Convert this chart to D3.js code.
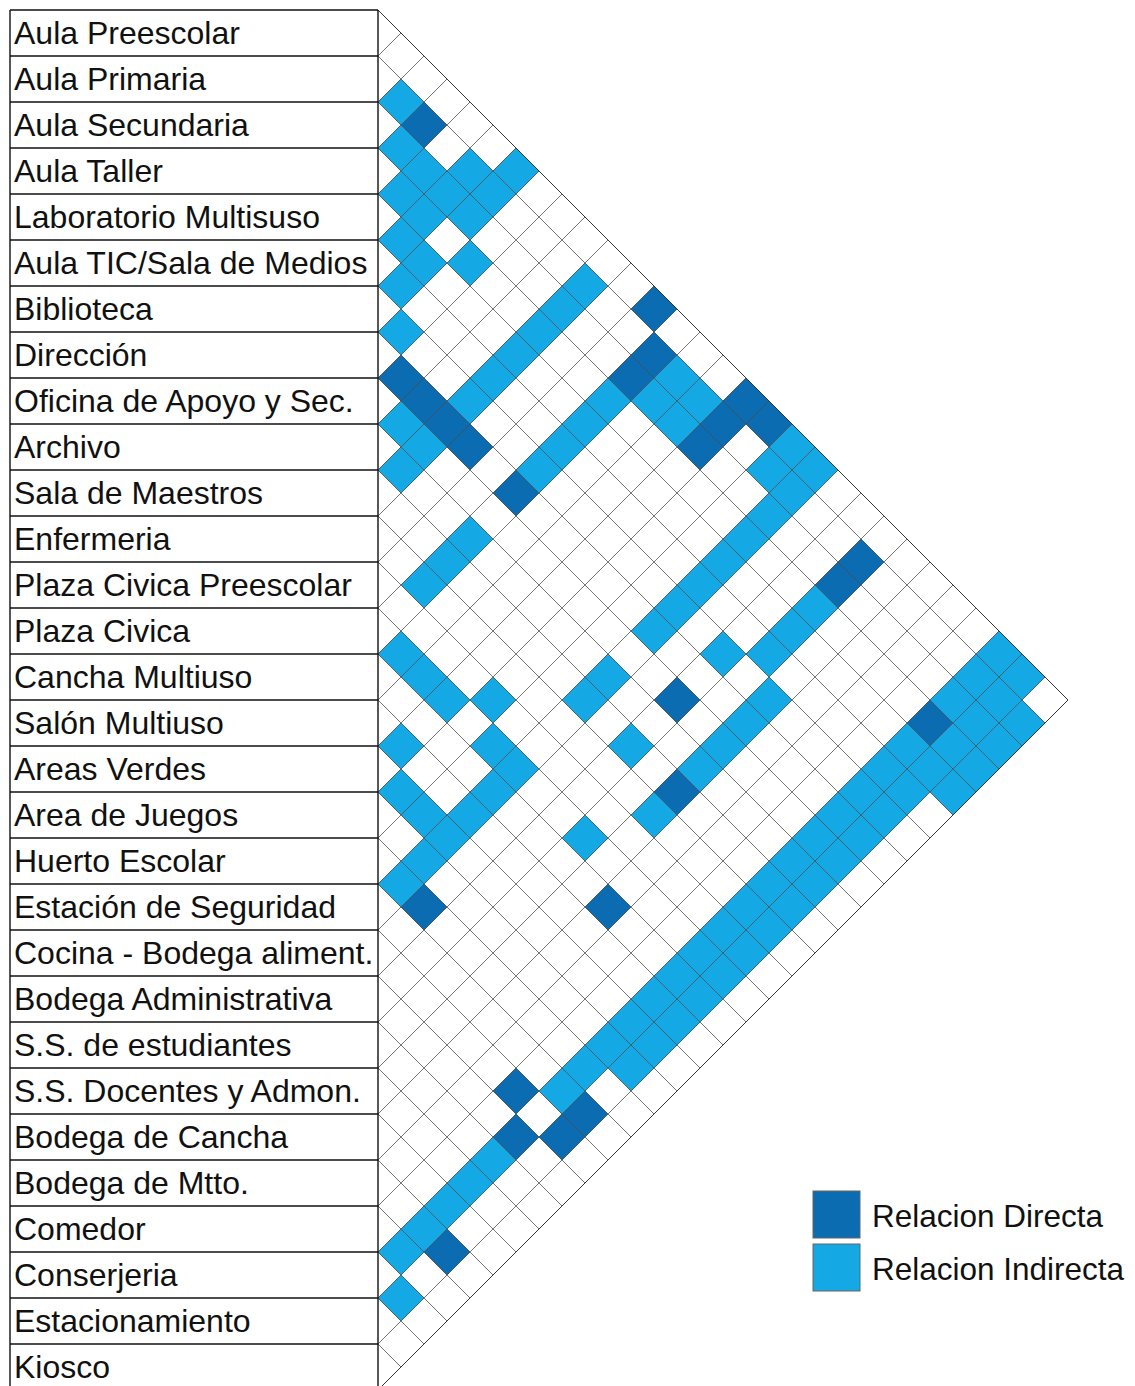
<!DOCTYPE html>
<html>
<head>
<meta charset="utf-8">
<script src="https://cdn.jsdelivr.net/npm/d3@7"></script>
<style>
  html, body { margin: 0; padding: 0; background: #fff; }
  svg { display: block; }
  text { font-family: "Liberation Sans", Arial, sans-serif; }
</style>
</head>
<body>
<div id="chart"></div>
<script>
// ---------------- data ----------------
const rooms = [
  "Aula Preescolar", "Aula Primaria", "Aula Secundaria", "Aula Taller",
  "Laboratorio Multisuso", "Aula TIC/Sala de Medios", "Biblioteca", "Dirección",
  "Oficina de Apoyo y Sec.", "Archivo", "Sala de Maestros", "Enfermeria",
  "Plaza Civica Preescolar", "Plaza Civica", "Cancha Multiuso", "Salón Multiuso",
  "Areas Verdes", "Area de Juegos", "Huerto Escolar", "Estación de Seguridad",
  "Cocina - Bodega aliment.", "Bodega Administrativa", "S.S. de estudiantes",
  "S.S. Docentes y Admon.", "Bodega de Cancha", "Bodega de Mtto.", "Comedor",
  "Conserjeria", "Estacionamiento", "Kiosco"
];

// pairs [row a, row b] (indices into rooms)
const directPairs = [
  [1,3],[0,12],[1,13],[2,13],[7,8],[7,9],[7,10],[7,11],[7,13],
  [0,16],[1,16],[2,16],[0,17],[1,22],[2,22],[8,21],[10,23],[18,20],
  [14,24],[3,27],[20,26],[21,27],[19,28],[20,28],[25,28]
];

const indirectPairs = [
  [1,2],[2,3],[2,4],[3,4],[1,5],[2,5],[3,5],[4,5],[0,6],[1,6],[2,6],[4,6],[5,6],
  [3,7],[6,7],[8,9],
  [1,10],[2,10],[3,10],[4,10],[5,10],[6,10],[8,10],[9,10],
  [3,13],[4,13],[5,13],[6,13],[9,13],[10,13],[11,13],
  [1,14],[2,14],[13,14],[1,15],[2,15],[13,15],[13,16],[15,16],[12,17],[16,17],
  [0,18],[1,18],[13,18],[16,18],
  [0,19],[1,19],[2,19],[3,19],[4,19],[5,19],[6,19],[7,19],[9,19],[10,19],
  [13,19],[14,19],[15,19],[16,19],[17,19],[18,19],
  [6,21],[10,21],
  [3,22],[4,22],[5,22],[13,22],
  [6,23],[7,23],[8,23],[9,23],[11,23],
  [0,27],[1,27],[2,27],[4,27],[5,27],[6,27],[7,27],[8,27],[9,27],[10,27],[11,27],
  [12,27],[13,27],[14,27],[15,27],[16,27],[17,27],[18,27],[19,27],
  [22,27],[23,27],[24,27],[25,27],[26,27],
  [0,28],[1,28],[2,28],[3,28],[4,28],[5,28],[6,28],[7,28],[8,28],[9,28],[10,28],
  [11,28],[12,28],[13,28],[14,28],[15,28],[16,28],[17,28],[27,28],
  [1,29],[2,29],[3,29],[4,29]
];

const legendLabels = ["Relacion Directa", "Relacion Indirecta"];
const legendKeys = ["direct", "indirect"];

// ---------------- layout ----------------
const W = 1135, H = 1386;
const N = rooms.length;
const tableLeft = 10, tableRight = 378, topY = 10, rowH = 46;
const colors = { direct: "#0b6cb1", indirect: "#14a8e4" };

const svg = d3.select("#chart").append("svg")
  .attr("width", W).attr("height", H)
  .attr("viewBox", `0 0 ${W} ${H}`);

svg.append("rect").attr("width", W).attr("height", H).attr("fill", "#fff");

// y: boundary index -> pixel; x: offset (in half rows) -> pixel
const y = d3.scaleLinear().domain([0, N]).range([topY, topY + rowH * N]);
const x = d3.scaleLinear().domain([0, N]).range([tableRight, tableRight + (rowH / 2) * N]);
const hx = x(1) - x(0);
const hy = y(0.5) - y(0);

function diamond(p) {
  const [a, b] = p;
  const cx = x(b - a), cy = y((a + b + 1) / 2);
  return [[cx - hx, cy], [cx, cy - hy], [cx + hx, cy], [cx, cy + hy]];
}

const cells = directPairs.map(p => ({ p, k: "direct" }))
  .concat(indirectPairs.map(p => ({ p, k: "indirect" })));

svg.append("g").selectAll("polygon").data(cells).join("polygon")
  .attr("points", d => diamond(d.p).map(q => q.join(",")).join(" "))
  .attr("fill", d => colors[d.k])
  .attr("stroke", d => colors[d.k])
  .attr("stroke-width", 0.6);

// grid lines of the matrix
const bounds = d3.range(0, N + 1);
const grid = svg.append("g").attr("stroke", "#4a4a4a").attr("stroke-width", 1).attr("fill", "none");
const yBottom = y(N);
bounds.forEach(k => {
  const yk = y(k);
  const tu = (yk - topY) / 2;
  if (tu > 0) grid.append("line").attr("x1", tableRight).attr("y1", yk)
    .attr("x2", tableRight + tu).attr("y2", yk - tu)
    .attr("stroke-opacity", 0.75);
  const td = (yBottom - yk) / 2;
  if (td > 0) grid.append("line").attr("x1", tableRight).attr("y1", yk)
    .attr("x2", tableRight + td).attr("y2", yk + td)
    .attr("stroke-opacity", 0.75);
});
grid.append("line").attr("x1", tableRight).attr("y1", topY)
  .attr("x2", x(N)).attr("y2", y(N / 2)).attr("stroke", "#333");
grid.append("line").attr("x1", tableRight).attr("y1", yBottom)
  .attr("x2", x(N)).attr("y2", y(N / 2)).attr("stroke", "#333");

// table of labels
const table = svg.append("g");
table.selectAll("line.sep").data(bounds).join("line")
  .attr("class", "sep")
  .attr("x1", tableLeft).attr("x2", tableRight)
  .attr("y1", d => y(d)).attr("y2", d => y(d))
  .attr("stroke", "#111").attr("stroke-width", 1.4);
table.append("line").attr("x1", tableLeft).attr("x2", tableLeft)
  .attr("y1", topY).attr("y2", yBottom).attr("stroke", "#111").attr("stroke-width", 1.4);
table.append("line").attr("x1", tableRight).attr("x2", tableRight)
  .attr("y1", topY).attr("y2", yBottom).attr("stroke", "#111").attr("stroke-width", 1.4);

table.selectAll("text").data(rooms).join("text")
  .attr("x", tableLeft + 4)
  .attr("y", (d, i) => y(i + 0.5) + 11)
  .attr("font-size", 32)
  .attr("fill", "#111")
  .text(d => d);

// legend
const lg = svg.append("g").attr("transform", "translate(813,1191)");
const item = lg.selectAll("g").data(legendLabels).join("g")
  .attr("transform", (d, i) => `translate(0, ${i * 53})`);
item.append("rect").attr("width", 47).attr("height", 47)
  .attr("fill", (d, i) => colors[legendKeys[i]])
  .attr("stroke", "#666").attr("stroke-width", 1);
item.append("text").attr("x", 59).attr("y", 36)
  .attr("font-size", 31.5).attr("fill", "#111")
  .text(d => d);
</script>
</body>
</html>
